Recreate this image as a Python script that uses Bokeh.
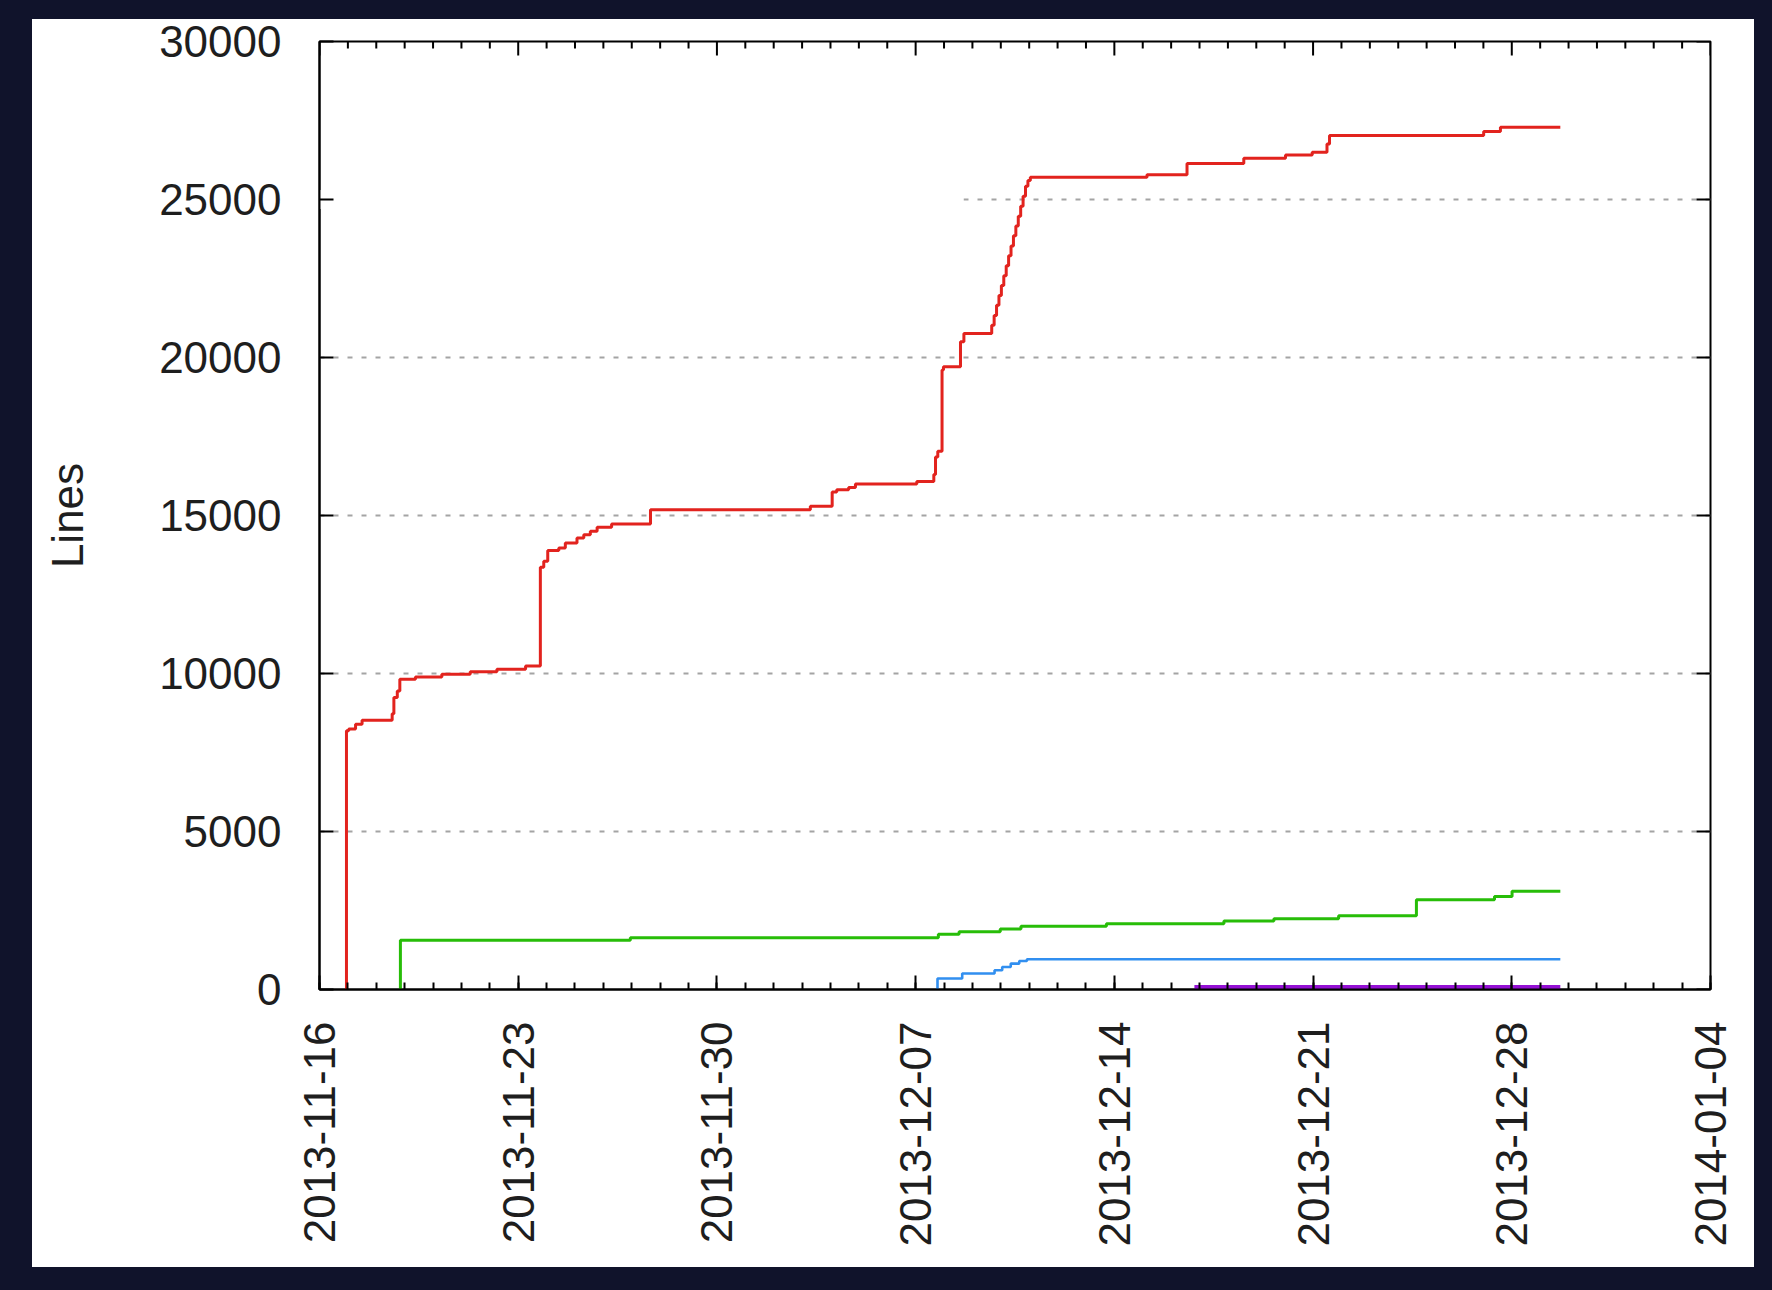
import math
from datetime import datetime, timedelta
from bokeh.plotting import figure
from bokeh.models import (FixedTicker, DatetimeTickFormatter, BoxAnnotation, Range1d)
from bokeh.embed import file_html
from bokeh.resources import INLINE

# ---------------- data ----------------
red_time = ["2013-11-16 22:48", "2013-11-16 22:48", "2013-11-17 00:43", "2013-11-17 06:29",
            "2013-11-17 12:00", "2013-11-18 13:26", "2013-11-18 14:53", "2013-11-18 17:46",
            "2013-11-18 19:55", "2013-11-19 09:07", "2013-11-20 07:26", "2013-11-21 07:26",
            "2013-11-22 06:00", "2013-11-23 06:14", "2013-11-23 18:43", "2013-11-23 21:36",
            "2013-11-24 00:58", "2013-11-24 10:19", "2013-11-24 15:50", "2013-11-25 01:41",
            "2013-11-25 07:26", "2013-11-25 12:58", "2013-11-25 18:43", "2013-11-26 06:58",
            "2013-11-27 15:50", "2013-12-03 06:58", "2013-12-04 01:26", "2013-12-04 05:17",
            "2013-12-04 15:22", "2013-12-04 21:07", "2013-12-07 00:58", "2013-12-07 15:22",
            "2013-12-07 16:48", "2013-12-07 18:43", "2013-12-07 22:19", "2013-12-07 23:31",
            "2013-12-08 13:55", "2013-12-08 16:48",
            "2013-12-09 16:19", "2013-12-09 18:22", "2013-12-09 20:24", "2013-12-09 22:26",
            "2013-12-10 00:29", "2013-12-10 02:31", "2013-12-10 04:34", "2013-12-10 06:36",
            "2013-12-10 08:38", "2013-12-10 10:41", "2013-12-10 12:43", "2013-12-10 14:46",
            "2013-12-10 16:48", "2013-12-10 18:50", "2013-12-10 20:53", "2013-12-10 22:55",
            "2013-12-11 00:58",
            "2013-12-15 03:36", "2013-12-16 13:26", "2013-12-18 13:26", "2013-12-20 00:43",
            "2013-12-20 23:17", "2013-12-21 11:46", "2013-12-21 13:55", "2013-12-27 00:14",
            "2013-12-27 14:24", "2013-12-29 17:02"]
red_lines = [0, 8186, 8240, 8397,
             8524, 8723, 9237, 9450,
             9818, 9891, 9976, 10058,
             10134, 10238, 13363, 13553,
             13890, 13973, 14131, 14289,
             14394, 14500, 14626, 14731,
             15185, 15290, 15740, 15816,
             15889, 15994, 16078, 16300,
             16850, 17030, 19605, 19709,
             20498, 20761,
             21020, 21330, 21650, 21960,
             22280, 22590, 22900, 23220,
             23530, 23850, 24160, 24470,
             24790, 25100, 25420, 25600,
             25708,
             25781, 26140, 26307, 26412,
             26497, 26760, 27024, 27150,
             27286, 27286]

green_time = ["2013-11-18 20:24", "2013-11-18 20:24", "2013-11-26 22:48", "2013-12-07 19:12",
              "2013-12-08 12:43", "2013-12-09 23:31", "2013-12-10 17:02", "2013-12-13 17:17",
              "2013-12-17 20:38", "2013-12-19 14:53", "2013-12-21 21:36", "2013-12-24 15:22",
              "2013-12-27 09:22", "2013-12-28 00:14", "2013-12-29 17:02"]
green_lines = [0, 1556, 1641, 1745,
               1830, 1914, 1998, 2083,
               2167, 2240, 2336, 2841,
               2945, 3113, 3113]

blue_time = ["2013-12-07 18:29", "2013-12-07 18:29", "2013-12-08 15:22", "2013-12-09 18:43",
             "2013-12-10 01:12", "2013-12-10 08:24", "2013-12-10 15:36", "2013-12-10 22:05",
             "2013-12-29 17:02"]
blue_lines = [0, 347, 505, 609, 714, 820, 900, 957, 957]

purple_time = ["2013-12-16 19:41", "2013-12-29 17:02"]
purple_lines = [83, 83]

week_ticks = ["2013-11-16", "2013-11-23", "2013-11-30", "2013-12-07",
              "2013-12-14", "2013-12-21", "2013-12-28", "2014-01-04"]
y_ticks = [0, 5000, 10000, 15000, 20000, 25000, 30000]

# ---------------- helpers ----------------
EPOCH = datetime(1970, 1, 1)


def to_dt(s):
    return datetime.strptime(s, "%Y-%m-%d %H:%M")


def ms(d):
    return (d - EPOCH).total_seconds() * 1000.0


x_start = datetime.strptime(week_ticks[0], "%Y-%m-%d")
x_end = datetime.strptime(week_ticks[-1], "%Y-%m-%d")
X0, X1 = ms(x_start), ms(x_end)
Y0, Y1 = y_ticks[0], y_ticks[-1]
major_ms = [ms(datetime.strptime(t, "%Y-%m-%d")) for t in week_ticks]
n_days = (x_end - x_start).days
minor_ms = [ms(x_start + timedelta(days=i)) for i in range(n_days + 1)]

W, H = 1756, 1274
ML, MT = 319, 41
FW, FH = 1391, 948
MR, MB = W - ML - FW, H - MT - FH

FONT = "Liberation Sans"
TXT = "#1e1e1e"
DARK = "#10132b"

p = figure(width=W, height=H, x_axis_type="datetime",
           x_range=Range1d(X0, X1), y_range=Range1d(Y0, Y1),
           output_backend="svg", toolbar_location=None,
           min_border_left=ML, min_border_right=MR, min_border_top=MT, min_border_bottom=MB)
p.background_fill_color = "white"
p.border_fill_color = None
p.outline_line_color = "black"
p.outline_line_width = 2
# white paper on a dark background (dark torn edges approximated by inset shadows)
p.styles = {
    "background-color": "white",
    "box-shadow": (f"inset 32px 0 0 0 {DARK}, inset 0 19px 0 0 {DARK}, "
                   f"inset -2px 0 0 0 {DARK}, inset 0 -7px 0 0 {DARK}"),
    "outline": f"16px solid {DARK}",
}

xt = FixedTicker(ticks=major_ms, minor_ticks=minor_ms)
yt = FixedTicker(ticks=y_ticks, minor_ticks=[])
fmt = "%Y-%m-%d"
dfmt = DatetimeTickFormatter(microseconds=fmt, milliseconds=fmt, seconds=fmt, minsec=fmt,
                             minutes=fmt, hourmin=fmt, hours=fmt, days=fmt, months=fmt, years=fmt)

xa = p.xaxis[0]
xa.ticker = xt
xa.formatter = dfmt
xa.major_label_orientation = math.pi / 2
xa.major_label_text_font = FONT
xa.major_label_text_font_size = "44px"
xa.major_label_text_color = TXT
xa.major_label_standoff = 32
xa.major_tick_in = 14
xa.major_tick_out = 0
xa.minor_tick_in = 7
xa.minor_tick_out = 0
xa.major_tick_line_width = 2
xa.minor_tick_line_width = 2
xa.axis_line_width = 2

ya = p.yaxis[0]
ya.ticker = yt
ya.major_label_text_font = FONT
ya.major_label_text_font_size = "44px"
ya.major_label_text_color = TXT
ya.major_label_standoff = 38
ya.major_tick_in = 14
ya.major_tick_out = 0
ya.minor_tick_in = 0
ya.minor_tick_out = 0
ya.major_tick_line_width = 2
ya.axis_line_width = 2
ya.axis_label = "Lines"
ya.axis_label_text_font = FONT
ya.axis_label_text_font_size = "44px"
ya.axis_label_text_font_style = "normal"
ya.axis_label_text_color = TXT
ya.axis_label_standoff = 64

p.xgrid.visible = False
p.ygrid.ticker = FixedTicker(ticks=y_ticks[1:-1])
p.ygrid.grid_line_color = "#a4a4a4"
p.ygrid.grid_line_width = 2
p.ygrid.grid_line_dash = "5 9"

# pixel sizes in data units (for tick lengths / decorations)
XPX = (X1 - X0) / FW
YPX = (Y1 - Y0) / FH

# empty key area hides the left part of the 25000 grid line
p.add_layout(BoxAnnotation(left=X0, right=X0 + (963 - ML) * XPX, bottom=24700, top=25300,
                           fill_color="white", fill_alpha=1, line_color=None, level="underlay"))

# mirrored ticks on top and right edges (gnuplot style), from the tick arrays
week_set = set(major_ms)
minor_only = [m for m in minor_ms if m not in week_set]
p.segment(x0=major_ms, x1=major_ms, y0=[Y1] * len(major_ms), y1=[Y1 - 14 * YPX] * len(major_ms),
          line_color="black", line_width=2)
p.segment(x0=minor_only, x1=minor_only, y0=[Y1] * len(minor_only),
          y1=[Y1 - 7 * YPX] * len(minor_only), line_color="black", line_width=2)
p.segment(x0=[X1] * len(y_ticks), x1=[X1 - 14 * XPX] * len(y_ticks), y0=y_ticks, y1=y_ticks,
          line_color="black", line_width=2)

# ---------------- series ----------------
series = [(red_time, red_lines, "#e2231e", 3.0),
          (green_time, green_lines, "#27bd08", 3.0),
          (blue_time, blue_lines, "#318ff0", 2.6),
          (purple_time, purple_lines, "#9410d4", 4.0)]
for times, vals, col, lw in series:
    p.step(x=[to_dt(t) for t in times], y=vals, mode="after", line_color=col, line_width=lw)

open("out.html", "w").write(file_html(p, INLINE))
